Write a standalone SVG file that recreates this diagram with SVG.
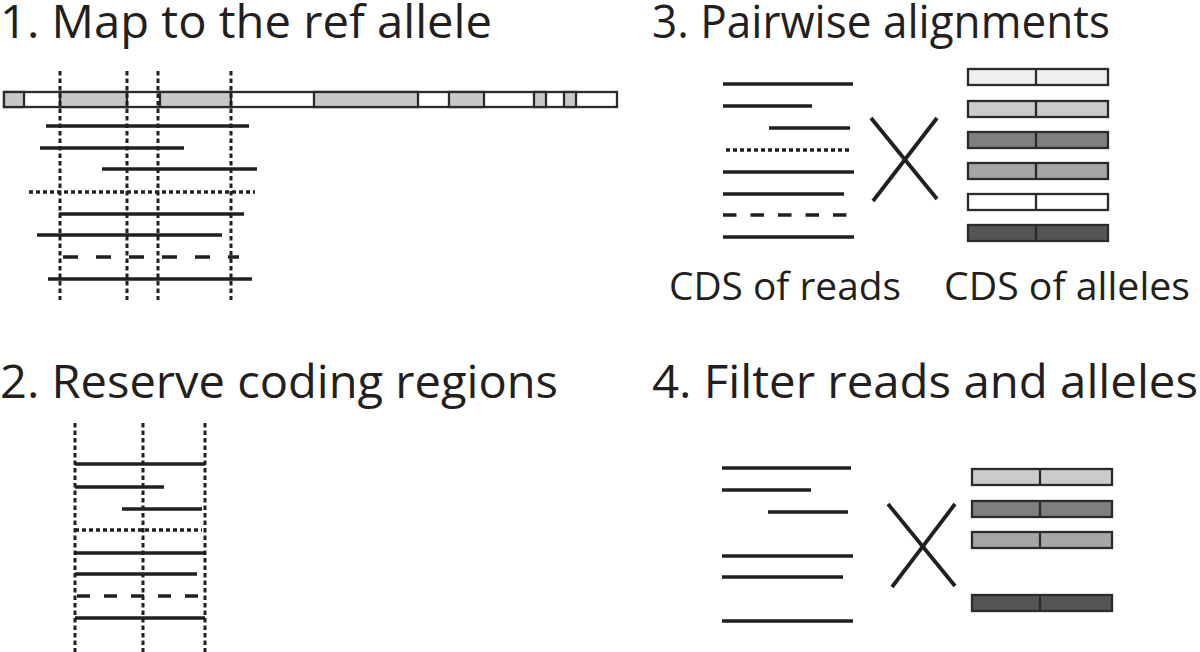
<svg xmlns="http://www.w3.org/2000/svg" width="1200" height="652" viewBox="0 0 1200 652">
<style>
.t{font-family:"Open Sans","Noto Sans","Liberation Sans",sans-serif;fill:#231f20;font-weight:500}
.h{font-size:45px}
.l{font-size:38px}
.r{stroke:#231f20;stroke-width:3.4;fill:none}
.dot{stroke-dasharray:4 3}
.dsh{stroke-dasharray:15 18}
.dsh2{stroke-dasharray:13 14}
.v{stroke:#231f20;stroke-width:3;stroke-dasharray:4.5 3;fill:none}
.b{stroke:#2b2b2b;stroke-width:2.3}
.x{stroke:#231f20;stroke-width:3.8;fill:none}
</style>
<rect width="1200" height="652" fill="#fff"/>
<g id="titles">
<text class="t h" x="0" y="38" textLength="492" lengthAdjust="spacingAndGlyphs">1. Map to the ref allele</text>
<text class="t h" x="652" y="38" textLength="458" lengthAdjust="spacingAndGlyphs">3. Pairwise alignments</text>
<text class="t h" x="0" y="398" textLength="558" lengthAdjust="spacingAndGlyphs">2. Reserve coding regions</text>
<text class="t h" x="652" y="398" textLength="546" lengthAdjust="spacingAndGlyphs">4. Filter reads and alleles</text>
</g>
<g id="panel1">
<g id="ref-allele">
<rect class="b" x="4" y="92" width="613" height="15" fill="#fff"/>
<rect class="b" x="4" y="92" width="20" height="15" fill="#c8c8c8"/>
<rect class="b" x="60" y="92" width="67" height="15" fill="#c8c8c8"/>
<rect class="b" x="160" y="92" width="71" height="15" fill="#c8c8c8"/>
<rect class="b" x="314" y="92" width="104" height="15" fill="#c8c8c8"/>
<rect class="b" x="449" y="92" width="35" height="15" fill="#c8c8c8"/>
<rect class="b" x="534" y="92" width="12" height="15" fill="#c8c8c8"/>
<rect class="b" x="564" y="92" width="12" height="15" fill="#c8c8c8"/>
</g>
<g id="reads1">
<line class="r" x1="46" y1="126" x2="249" y2="126"/>
<line class="r" x1="40" y1="148" x2="184" y2="148"/>
<line class="r" x1="102" y1="169" x2="257" y2="169"/>
<line class="r dot" x1="29" y1="192" x2="255" y2="192"/>
<line class="r" x1="59" y1="214" x2="244" y2="214"/>
<line class="r" x1="37" y1="235" x2="222" y2="235"/>
<line class="r dsh" x1="63" y1="257" x2="239" y2="257"/>
<line class="r" x1="48" y1="279" x2="252" y2="279"/>
</g>
<g id="guides1">
<line class="v" x1="60" y1="71" x2="60" y2="300"/>
<line class="v" x1="127" y1="71" x2="127" y2="300"/>
<line class="v" x1="158" y1="71" x2="158" y2="300"/>
<line class="v" x1="231" y1="71" x2="231" y2="300"/>
</g>
</g>
<g id="panel2">
<g id="reads2">
<line class="r" x1="75" y1="464" x2="205" y2="464"/>
<line class="r" x1="75" y1="487" x2="164" y2="487"/>
<line class="r" x1="122" y1="509" x2="202" y2="509"/>
<line class="r dot" x1="75" y1="530" x2="202" y2="530"/>
<line class="r" x1="75" y1="553" x2="205" y2="553"/>
<line class="r" x1="75" y1="574" x2="197" y2="574"/>
<line class="r dsh2" x1="77" y1="596" x2="200" y2="596"/>
<line class="r" x1="75" y1="618" x2="205" y2="618"/>
</g>
<g id="guides2">
<line class="v" x1="75" y1="423" x2="75" y2="652"/>
<line class="v" x1="143" y1="423" x2="143" y2="652"/>
<line class="v" x1="205" y1="423" x2="205" y2="652"/>
</g>
</g>
<g id="panel3">
<g id="reads3">
<line class="r" x1="723" y1="84" x2="853" y2="84"/>
<line class="r" x1="723" y1="106" x2="812" y2="106"/>
<line class="r" x1="769" y1="128" x2="850" y2="128"/>
<line class="r dot" x1="726" y1="150" x2="849" y2="150"/>
<line class="r" x1="723" y1="172" x2="854" y2="172"/>
<line class="r" x1="723" y1="194" x2="844" y2="194"/>
<line class="r" x1="723" y1="215" x2="847" y2="215" stroke-dasharray="13.5 14"/>
<line class="r" x1="723" y1="237" x2="854" y2="237"/>
</g>
<g id="cross3">
<line class="x" x1="871" y1="118" x2="937" y2="199"/>
<line class="x" x1="873" y1="201" x2="937" y2="118"/>
</g>
<g id="alleles3">
<rect class="b" x="968" y="69" width="140" height="16" fill="#efefef"/>
<rect class="b" x="968" y="101" width="140" height="16" fill="#cbcbcb"/>
<rect class="b" x="968" y="132" width="140" height="16" fill="#7f7f7f"/>
<rect class="b" x="968" y="163" width="140" height="16" fill="#a6a6a6"/>
<rect class="b" x="968" y="194" width="140" height="16" fill="#ffffff"/>
<rect class="b" x="968" y="225" width="140" height="16" fill="#555555"/>
<path class="b" d="M1036 69V85M1036 101V117M1036 132V148M1036 163V179M1036 194V210M1036 225V241"/>
</g>
<text class="t l" x="669" y="300" textLength="232" lengthAdjust="spacingAndGlyphs">CDS of reads</text>
<text class="t l" x="944" y="300" textLength="246" lengthAdjust="spacingAndGlyphs">CDS of alleles</text>
</g>
<g id="panel4">
<g id="reads4">
<line class="r" x1="722" y1="468" x2="851" y2="468"/>
<line class="r" x1="722" y1="490" x2="811" y2="490"/>
<line class="r" x1="768" y1="512" x2="848" y2="512"/>
<line class="r" x1="722" y1="556" x2="853" y2="556"/>
<line class="r" x1="722" y1="577" x2="843" y2="577"/>
<line class="r" x1="722" y1="621" x2="853" y2="621"/>
</g>
<g id="cross4">
<line class="x" x1="888" y1="504" x2="955" y2="586"/>
<line class="x" x1="892" y1="587" x2="955" y2="504"/>
</g>
<g id="alleles4">
<rect class="b" x="972" y="469" width="140" height="16" fill="#cbcbcb"/>
<rect class="b" x="972" y="501" width="140" height="16" fill="#7f7f7f"/>
<rect class="b" x="972" y="532" width="140" height="16" fill="#a6a6a6"/>
<rect class="b" x="972" y="595" width="140" height="16" fill="#555555"/>
<path class="b" d="M1040 469V485M1040 501V517M1040 532V548M1040 595V611"/>
</g>
</g>
</svg>
